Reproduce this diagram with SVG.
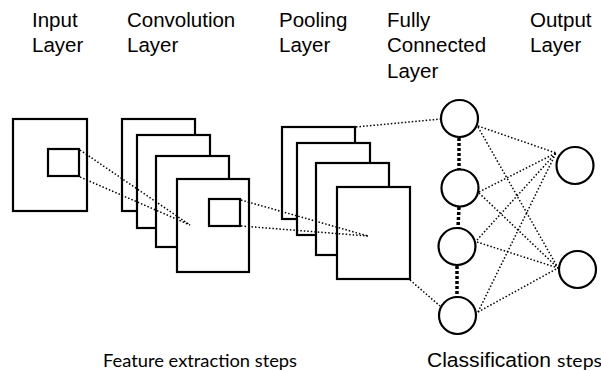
<svg xmlns="http://www.w3.org/2000/svg" width="601" height="370" viewBox="0 0 601 370">
  <style>
    .map { fill: #fff; stroke: #000; stroke-width: 2.2; }
    .win { fill: none; stroke: #000; stroke-width: 2.2; }
    .neuron { fill: #fff; stroke: #000; stroke-width: 2.2; }
    .dot { fill: none; stroke: #000; stroke-width: 1.5; stroke-dasharray: 1.5 2; }
    .thick { fill: none; stroke: #000; stroke-width: 3.5; stroke-dasharray: 3 2; }
    .title { font-family: "Liberation Sans", Arial, sans-serif; font-size: 20.5px; fill: #000; }
    .caption { font-family: Lato, "Open Sans", sans-serif; font-size: 18px; fill: #000; }
  </style>

  <!-- layer titles -->
  <g id="titles">
    <text class="title" x="32" y="27">Input</text>
    <text class="title" x="32" y="52">Layer</text>
    <text class="title" x="127" y="27">Convolution</text>
    <text class="title" x="127" y="52">Layer</text>
    <text class="title" x="279" y="27">Pooling</text>
    <text class="title" x="279" y="52">Layer</text>
    <text class="title" x="387" y="27">Fully</text>
    <text class="title" x="387" y="52">Connected</text>
    <text class="title" x="387" y="78">Layer</text>
    <text class="title" x="530" y="27">Output</text>
    <text class="title" x="530" y="52">Layer</text>
  </g>

  <!-- input image with receptive window -->
  <g id="input-layer">
    <rect class="map" x="13" y="119" width="74" height="92"/>
    <rect class="win" x="48" y="149" width="31" height="27"/>
  </g>

  <!-- stack of convolution feature maps -->
  <g id="conv-layer">
    <rect class="map" x="122" y="119" width="73" height="92"/>
    <rect class="map" x="137" y="135" width="73" height="93"/>
    <rect class="map" x="156" y="156" width="73" height="91"/>
    <rect class="map" x="177" y="179" width="72" height="93"/>
    <rect class="win" x="209" y="199" width="31" height="27"/>
  </g>

  <!-- stack of pooled maps -->
  <g id="pool-layer">
    <rect class="map" x="282" y="127" width="73" height="92"/>
    <rect class="map" x="297" y="143" width="73" height="92"/>
    <rect class="map" x="316" y="163" width="73" height="92"/>
    <rect class="map" x="337" y="187" width="73" height="92"/>
  </g>

  <g id="connectors">
    <!-- receptive field projections -->
    <line class="dot" x1="80" y1="150" x2="190" y2="225"/>
    <line class="dot" x1="80" y1="177" x2="190" y2="225"/>
    <line class="dot" x1="241" y1="200" x2="368" y2="236"/>
    <line class="dot" x1="241" y1="226" x2="368" y2="236"/>
    <!-- pooled maps to dense layer -->
    <line class="dot" x1="356" y1="127" x2="441" y2="119"/>
    <line class="dot" x1="410" y1="280" x2="440" y2="306"/>
    <!-- elided neurons in dense layer -->
    <line class="thick" x1="459" y1="138" x2="459" y2="169"/>
    <line class="thick" x1="459" y1="207" x2="458" y2="228"/>
    <line class="thick" x1="457" y1="266" x2="457" y2="297"/>
    <!-- dense to output -->
    <line class="dot" x1="478" y1="126" x2="556" y2="153"/>
    <line class="dot" x1="478" y1="127" x2="558" y2="268"/>
    <line class="dot" x1="479" y1="192" x2="556" y2="153"/>
    <line class="dot" x1="479" y1="193" x2="558" y2="268"/>
    <line class="dot" x1="477" y1="240" x2="556" y2="153"/>
    <line class="dot" x1="477" y1="242" x2="558" y2="268"/>
    <line class="dot" x1="478" y1="312" x2="556" y2="153"/>
    <line class="dot" x1="478" y1="312" x2="558" y2="268"/>
  </g>

  <g id="fc-layer">
    <circle id="fc1" class="neuron" cx="459.5" cy="118.5" r="18.5"/>
    <circle id="fc2" class="neuron" cx="460" cy="188" r="18.5"/>
    <circle id="fc3" class="neuron" cx="457" cy="246.5" r="18.5"/>
    <circle id="fc4" class="neuron" cx="457.5" cy="315.5" r="18.5"/>
  </g>

  <g id="output-layer">
    <circle id="out1" class="neuron" cx="575" cy="165.5" r="18.5"/>
    <circle id="out2" class="neuron" cx="577.5" cy="269.5" r="18.5"/>
  </g>

  <!-- stage captions -->
  <g id="captions">
    <text class="caption" x="103" y="367" textLength="194" lengthAdjust="spacingAndGlyphs">Feature extraction steps</text>
    <text class="title" x="427" y="367" textLength="124" lengthAdjust="spacingAndGlyphs">Classification</text>
    <text class="caption" x="557" y="367" textLength="45" lengthAdjust="spacingAndGlyphs">steps</text>
  </g>
</svg>
